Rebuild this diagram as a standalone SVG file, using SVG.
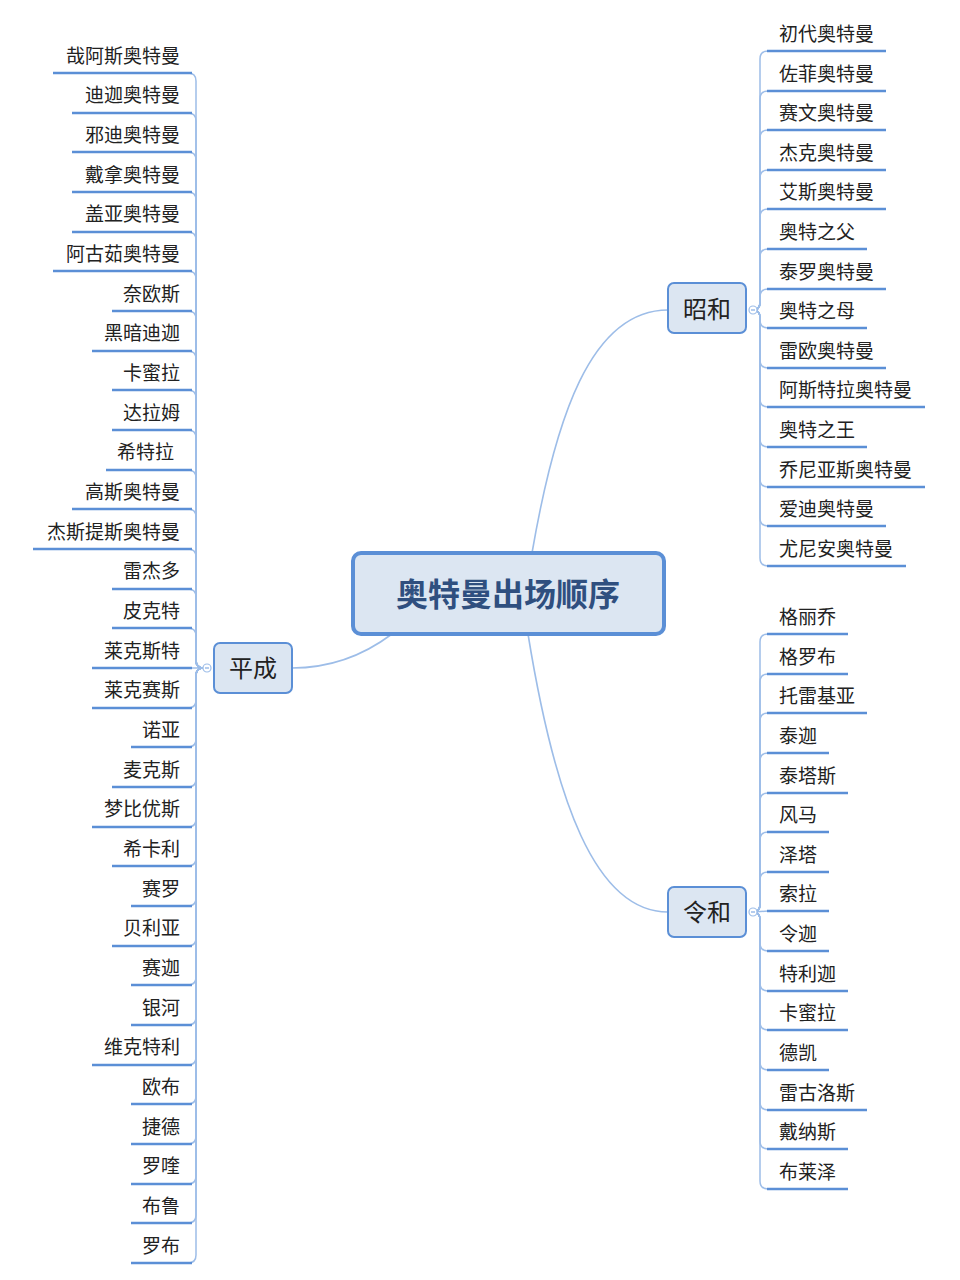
<svg xmlns="http://www.w3.org/2000/svg" width="960" height="1280" viewBox="0 0 960 1280">
<style>
text{font-family:"Noto Sans CJK SC","Liberation Sans",sans-serif;fill:#222}
.it{font-size:19px}
.l{text-anchor:end}
.u{stroke:#5b8fd6;stroke-width:2.5;fill:none}
.c{stroke:#9dbde8;stroke-width:1.5;fill:none}
.m{stroke:#9dbde8;stroke-width:1.6;fill:none}
.b{fill:#dce6f2;stroke:#5b8fd6;stroke-width:2}
.bt{font-size:24px;text-anchor:middle}
.k{fill:#fff;stroke:#9dbde8;stroke-width:1.2}
</style>
<g id="connectors">
<path class="m" d="M532,553 C555,420 590,310 668,310"/>
<path class="m" d="M528,634 C555,800 595,912 668,912"/>
<path class="m" d="M392,634 C360,658 325,668 292,668"/>
<g class="c">
<path d="M203,668 Q196,668 196,660 L196,81 Q196,73 188,73"/>
<path d="M203,668 Q196,668 196,660 L196,121 Q196,113 188,113"/>
<path d="M203,668 Q196,668 196,660 L196,160 Q196,152 188,152"/>
<path d="M203,668 Q196,668 196,660 L196,200 Q196,192 188,192"/>
<path d="M203,668 Q196,668 196,660 L196,240 Q196,232 188,232"/>
<path d="M203,668 Q196,668 196,660 L196,279 Q196,271 188,271"/>
<path d="M203,668 Q196,668 196,660 L196,319 Q196,311 188,311"/>
<path d="M203,668 Q196,668 196,660 L196,359 Q196,351 188,351"/>
<path d="M203,668 Q196,668 196,660 L196,398 Q196,390 188,390"/>
<path d="M203,668 Q196,668 196,660 L196,438 Q196,430 188,430"/>
<path d="M203,668 Q196,668 196,660 L196,478 Q196,470 188,470"/>
<path d="M203,668 Q196,668 196,660 L196,517 Q196,509 188,509"/>
<path d="M203,668 Q196,668 196,660 L196,557 Q196,549 188,549"/>
<path d="M203,668 Q196,668 196,660 L196,597 Q196,589 188,589"/>
<path d="M203,668 Q196,668 196,660 L196,636 Q196,628 188,628"/>
<path d="M203,668 L188,668"/>
<path d="M203,668 Q196,668 196,676 L196,700 Q196,708 188,708"/>
<path d="M203,668 Q196,668 196,676 L196,739 Q196,747 188,747"/>
<path d="M203,668 Q196,668 196,676 L196,779 Q196,787 188,787"/>
<path d="M203,668 Q196,668 196,676 L196,819 Q196,827 188,827"/>
<path d="M203,668 Q196,668 196,676 L196,858 Q196,866 188,866"/>
<path d="M203,668 Q196,668 196,676 L196,898 Q196,906 188,906"/>
<path d="M203,668 Q196,668 196,676 L196,938 Q196,946 188,946"/>
<path d="M203,668 Q196,668 196,676 L196,977 Q196,985 188,985"/>
<path d="M203,668 Q196,668 196,676 L196,1017 Q196,1025 188,1025"/>
<path d="M203,668 Q196,668 196,676 L196,1057 Q196,1065 188,1065"/>
<path d="M203,668 Q196,668 196,676 L196,1096 Q196,1104 188,1104"/>
<path d="M203,668 Q196,668 196,676 L196,1136 Q196,1144 188,1144"/>
<path d="M203,668 Q196,668 196,676 L196,1176 Q196,1184 188,1184"/>
<path d="M203,668 Q196,668 196,676 L196,1215 Q196,1223 188,1223"/>
<path d="M203,668 Q196,668 196,676 L196,1255 Q196,1263 188,1263"/>

<path d="M753,310 Q760,310 760,302 L760,59 Q760,51 768,51"/>
<path d="M753,310 Q760,310 760,302 L760,99 Q760,91 768,91"/>
<path d="M753,310 Q760,310 760,302 L760,138 Q760,130 768,130"/>
<path d="M753,310 Q760,310 760,302 L760,178 Q760,170 768,170"/>
<path d="M753,310 Q760,310 760,302 L760,217 Q760,209 768,209"/>
<path d="M753,310 Q760,310 760,302 L760,257 Q760,249 768,249"/>
<path d="M753,310 Q760,310 760,302 L760,297 Q760,289 768,289"/>
<path d="M753,310 Q760,310 760,318 L760,320 Q760,328 768,328"/>
<path d="M753,310 Q760,310 760,318 L760,360 Q760,368 768,368"/>
<path d="M753,310 Q760,310 760,318 L760,399 Q760,407 768,407"/>
<path d="M753,310 Q760,310 760,318 L760,439 Q760,447 768,447"/>
<path d="M753,310 Q760,310 760,318 L760,479 Q760,487 768,487"/>
<path d="M753,310 Q760,310 760,318 L760,518 Q760,526 768,526"/>
<path d="M753,310 Q760,310 760,318 L760,558 Q760,566 768,566"/>

<path d="M753,912 Q760,912 760,904 L760,642 Q760,634 768,634"/>
<path d="M753,912 Q760,912 760,904 L760,682 Q760,674 768,674"/>
<path d="M753,912 Q760,912 760,904 L760,721 Q760,713 768,713"/>
<path d="M753,912 Q760,912 760,904 L760,761 Q760,753 768,753"/>
<path d="M753,912 Q760,912 760,904 L760,801 Q760,793 768,793"/>
<path d="M753,912 Q760,912 760,904 L760,840 Q760,832 768,832"/>
<path d="M753,912 Q760,912 760,904 L760,880 Q760,872 768,872"/>
<path d="M753,912 L768,911"/>
<path d="M753,912 Q760,912 760,920 L760,943 Q760,951 768,951"/>
<path d="M753,912 Q760,912 760,920 L760,983 Q760,991 768,991"/>
<path d="M753,912 Q760,912 760,920 L760,1022 Q760,1030 768,1030"/>
<path d="M753,912 Q760,912 760,920 L760,1062 Q760,1070 768,1070"/>
<path d="M753,912 Q760,912 760,920 L760,1102 Q760,1110 768,1110"/>
<path d="M753,912 Q760,912 760,920 L760,1141 Q760,1149 768,1149"/>
<path d="M753,912 Q760,912 760,920 L760,1181 Q760,1189 768,1189"/>
</g>
<circle class="k" cx="207" cy="668" r="4"/><path class="c" d="M205,668 H209"/>
<circle class="k" cx="753" cy="310" r="4"/><path class="c" d="M751,310 H755"/>
<circle class="k" cx="753" cy="912" r="4"/><path class="c" d="M751,912 H755"/>
</g>

<g id="center">
<rect x="353" y="553" width="311" height="81" rx="8" fill="#dce6f2" stroke="#5b8fd6" stroke-width="4"/>
<text x="508" y="606" text-anchor="middle" font-size="32" font-weight="bold" style="fill:#2f4f7f">奥特曼出场顺序</text>
</g>
<g id="showa"><rect class="b" x="668" y="283" width="78" height="50" rx="6"/><text class="bt" x="707" y="318">昭和</text></g>
<g id="heisei"><rect class="b" x="214" y="643" width="78" height="50" rx="6"/><text class="bt" x="253" y="677">平成</text></g>
<g id="reiwa"><rect class="b" x="668" y="887" width="78" height="50" rx="6"/><text class="bt" x="707" y="921">令和</text></g>

<g id="heisei-items">
<line class="u" x1="53" y1="73" x2="192" y2="73"/><text class="it l" x="180" y="63">哉阿斯奥特曼</text>
<line class="u" x1="72" y1="113" x2="192" y2="113"/><text class="it l" x="180" y="102">迪迦奥特曼</text>
<line class="u" x1="72" y1="152" x2="192" y2="152"/><text class="it l" x="180" y="142">邪迪奥特曼</text>
<line class="u" x1="72" y1="192" x2="192" y2="192"/><text class="it l" x="180" y="182">戴拿奥特曼</text>
<line class="u" x1="72" y1="232" x2="192" y2="232"/><text class="it l" x="180" y="221">盖亚奥特曼</text>
<line class="u" x1="53" y1="271" x2="192" y2="271"/><text class="it l" x="180" y="261">阿古茹奥特曼</text>
<line class="u" x1="112" y1="311" x2="192" y2="311"/><text class="it l" x="180" y="301">奈欧斯</text>
<line class="u" x1="92" y1="351" x2="192" y2="351"/><text class="it l" x="180" y="340">黑暗迪迦</text>
<line class="u" x1="112" y1="390" x2="192" y2="390"/><text class="it l" x="180" y="380">卡蜜拉</text>
<line class="u" x1="112" y1="430" x2="192" y2="430"/><text class="it l" x="180" y="420">达拉姆</text>
<line class="u" x1="106" y1="470" x2="192" y2="470"/><text class="it l" x="174" y="459">希特拉</text>
<line class="u" x1="72" y1="509" x2="192" y2="509"/><text class="it l" x="180" y="499">高斯奥特曼</text>
<line class="u" x1="33" y1="549" x2="192" y2="549"/><text class="it l" x="180" y="539">杰斯提斯奥特曼</text>
<line class="u" x1="112" y1="589" x2="192" y2="589"/><text class="it l" x="180" y="578">雷杰多</text>
<line class="u" x1="112" y1="628" x2="192" y2="628"/><text class="it l" x="180" y="618">皮克特</text>
<line class="u" x1="92" y1="668" x2="192" y2="668"/><text class="it l" x="180" y="658">莱克斯特</text>
<line class="u" x1="92" y1="708" x2="192" y2="708"/><text class="it l" x="180" y="697">莱克赛斯</text>
<line class="u" x1="131" y1="747" x2="192" y2="747"/><text class="it l" x="180" y="737">诺亚</text>
<line class="u" x1="112" y1="787" x2="192" y2="787"/><text class="it l" x="180" y="777">麦克斯</text>
<line class="u" x1="92" y1="827" x2="192" y2="827"/><text class="it l" x="180" y="816">梦比优斯</text>
<line class="u" x1="112" y1="866" x2="192" y2="866"/><text class="it l" x="180" y="856">希卡利</text>
<line class="u" x1="131" y1="906" x2="192" y2="906"/><text class="it l" x="180" y="896">赛罗</text>
<line class="u" x1="112" y1="946" x2="192" y2="946"/><text class="it l" x="180" y="935">贝利亚</text>
<line class="u" x1="131" y1="985" x2="192" y2="985"/><text class="it l" x="180" y="975">赛迦</text>
<line class="u" x1="131" y1="1025" x2="192" y2="1025"/><text class="it l" x="180" y="1015">银河</text>
<line class="u" x1="92" y1="1065" x2="192" y2="1065"/><text class="it l" x="180" y="1054">维克特利</text>
<line class="u" x1="131" y1="1104" x2="192" y2="1104"/><text class="it l" x="180" y="1094">欧布</text>
<line class="u" x1="131" y1="1144" x2="192" y2="1144"/><text class="it l" x="180" y="1134">捷德</text>
<line class="u" x1="131" y1="1184" x2="192" y2="1184"/><text class="it l" x="180" y="1173">罗喹</text>
<line class="u" x1="131" y1="1223" x2="192" y2="1223"/><text class="it l" x="180" y="1213">布鲁</text>
<line class="u" x1="131" y1="1263" x2="192" y2="1263"/><text class="it l" x="180" y="1253">罗布</text>
</g>

<g id="showa-items">
<line class="u" x1="767" y1="51" x2="886" y2="51"/><text class="it" x="779" y="41">初代奥特曼</text>
<line class="u" x1="767" y1="91" x2="886" y2="91"/><text class="it" x="779" y="81">佐菲奥特曼</text>
<line class="u" x1="767" y1="130" x2="886" y2="130"/><text class="it" x="779" y="120">赛文奥特曼</text>
<line class="u" x1="767" y1="170" x2="886" y2="170"/><text class="it" x="779" y="160">杰克奥特曼</text>
<line class="u" x1="767" y1="209" x2="886" y2="209"/><text class="it" x="779" y="199">艾斯奥特曼</text>
<line class="u" x1="767" y1="249" x2="867" y2="249"/><text class="it" x="779" y="239">奥特之父</text>
<line class="u" x1="767" y1="289" x2="886" y2="289"/><text class="it" x="779" y="279">泰罗奥特曼</text>
<line class="u" x1="767" y1="328" x2="867" y2="328"/><text class="it" x="779" y="318">奥特之母</text>
<line class="u" x1="767" y1="368" x2="886" y2="368"/><text class="it" x="779" y="358">雷欧奥特曼</text>
<line class="u" x1="767" y1="407" x2="925" y2="407"/><text class="it" x="779" y="397">阿斯特拉奥特曼</text>
<line class="u" x1="767" y1="447" x2="867" y2="447"/><text class="it" x="779" y="437">奥特之王</text>
<line class="u" x1="767" y1="487" x2="925" y2="487"/><text class="it" x="779" y="477">乔尼亚斯奥特曼</text>
<line class="u" x1="767" y1="526" x2="886" y2="526"/><text class="it" x="779" y="516">爱迪奥特曼</text>
<line class="u" x1="767" y1="566" x2="906" y2="566"/><text class="it" x="779" y="556">尤尼安奥特曼</text>
</g>

<g id="reiwa-items">
<line class="u" x1="767" y1="634" x2="848" y2="634"/><text class="it" x="779" y="624">格丽乔</text>
<line class="u" x1="767" y1="674" x2="848" y2="674"/><text class="it" x="779" y="664">格罗布</text>
<line class="u" x1="767" y1="713" x2="867" y2="713"/><text class="it" x="779" y="703">托雷基亚</text>
<line class="u" x1="767" y1="753" x2="829" y2="753"/><text class="it" x="779" y="743">泰迦</text>
<line class="u" x1="767" y1="793" x2="848" y2="793"/><text class="it" x="779" y="783">泰塔斯</text>
<line class="u" x1="767" y1="832" x2="829" y2="832"/><text class="it" x="779" y="822">风马</text>
<line class="u" x1="767" y1="872" x2="829" y2="872"/><text class="it" x="779" y="862">泽塔</text>
<line class="u" x1="767" y1="911" x2="829" y2="911"/><text class="it" x="779" y="901">索拉</text>
<line class="u" x1="767" y1="951" x2="829" y2="951"/><text class="it" x="779" y="941">令迦</text>
<line class="u" x1="767" y1="991" x2="848" y2="991"/><text class="it" x="779" y="981">特利迦</text>
<line class="u" x1="767" y1="1030" x2="848" y2="1030"/><text class="it" x="779" y="1020">卡蜜拉</text>
<line class="u" x1="767" y1="1070" x2="829" y2="1070"/><text class="it" x="779" y="1060">德凯</text>
<line class="u" x1="767" y1="1110" x2="867" y2="1110"/><text class="it" x="779" y="1100">雷古洛斯</text>
<line class="u" x1="767" y1="1149" x2="848" y2="1149"/><text class="it" x="779" y="1139">戴纳斯</text>
<line class="u" x1="767" y1="1189" x2="848" y2="1189"/><text class="it" x="779" y="1179">布莱泽</text>
</g>
</svg>
